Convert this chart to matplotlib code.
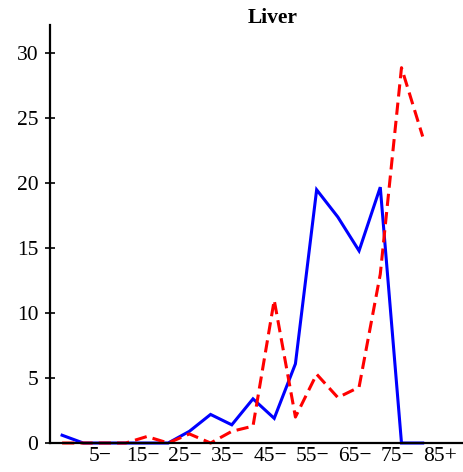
import matplotlib.pyplot as plt
import numpy as np

plt.rcParams['font.family'] = ['Liberation Serif', 'DejaVu Serif']

# age groups 0-4, 5-9, ..., 80-84, 85+
age_groups = ["0−", "5−", "10−", "15−", "20−", "25−", "30−", "35−", "40−",
              "45−", "50−", "55−", "60−", "65−", "70−", "75−", "80−", "85+"]
blue_vals = [0.6, 0, 0, 0, 0, 0, 0.9, 2.2, 1.4, 3.4, 1.9, 6.1,
             19.5, 17.4, 14.8, 19.7, 0, 0]
red_vals = [0, 0, 0, 0, 0.5, 0, 0.7, 0, 0.9, 1.3, 11.0, 2.0,
            5.3, 3.5, 4.3, 13.0, 28.9, 23.6]
tick_labels = ["5−", "15−", "25−", "35−", "45−", "55−", "65−", "75−", "85+"]

x = np.arange(len(age_groups))

fig = plt.figure(figsize=(4.63, 4.72), dpi=100)
ax = fig.add_axes([0.108, 0.0614, 0.892, 0.886])

ax.plot(x, blue_vals, color='#0000ff', lw=2.2, solid_joinstyle='miter', clip_on=False)
ax.plot(x, red_vals, color='#ff0000', lw=2.2, dashes=(4, 2), clip_on=False)

ax.set_xlim(-0.57, 18.9)
ax.set_ylim(0, 32.2)

ax.spines['top'].set_visible(False)
ax.spines['right'].set_visible(False)
ax.spines['left'].set_linewidth(1.6)
ax.spines['bottom'].set_linewidth(1.6)

ax.set_yticks([0, 5, 10, 15, 20, 25, 30])
ax.set_xticks(x[1::2] + 0.8)
ax.set_xticklabels(tick_labels)
ax.tick_params(axis='y', direction='inout', length=7, width=1.2, labelsize=15.5, pad=5)
ax.tick_params(axis='x', length=0, labelsize=15.5, pad=3)

fig.text(273 / 463, 1 - 18 / 472, "Liver", ha='center', va='center',
         fontsize=15.5, fontweight='bold')

fig.savefig('out.png', dpi=100)
